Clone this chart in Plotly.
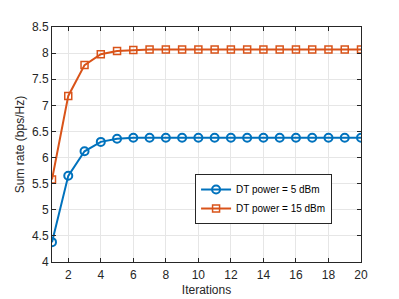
import plotly.graph_objects as go

iterations = list(range(1, 21))
rate_5dbm = [4.38, 5.65, 6.12, 6.30, 6.36, 6.38, 6.38, 6.38, 6.38, 6.38,
             6.38, 6.38, 6.38, 6.38, 6.38, 6.38, 6.38, 6.38, 6.38, 6.38]
rate_15dbm = [5.58, 7.18, 7.77, 7.98, 8.04, 8.06, 8.07, 8.07, 8.07, 8.07,
              8.07, 8.07, 8.07, 8.07, 8.07, 8.07, 8.07, 8.07, 8.07, 8.07]
x_ticks = list(range(2, 21, 2))
y_ticks = [4, 4.5, 5, 5.5, 6, 6.5, 7, 7.5, 8, 8.5]
y_ticktext = ["4", "4.5", "5", "5.5", "6", "6.5", "7", "7.5", "8", "8.5"]

FONT = "Liberation Sans, Arial"

fig = go.Figure()
fig.add_trace(go.Scatter(
    x=iterations, y=rate_5dbm, mode="lines+markers", name="DT power = 5 dBm",
    line=dict(color="#0072BD", width=2),
    marker=dict(symbol="circle-open", size=8, color="#0072BD", line=dict(width=2))))
fig.add_trace(go.Scatter(
    x=iterations, y=rate_15dbm, mode="lines+markers", name="DT power = 15 dBm",
    line=dict(color="#D95319", width=2),
    marker=dict(symbol="square-open", size=7, color="#D95319", line=dict(width=1.5))))

axis_common = dict(
    showgrid=True, gridcolor="#e6e6e6", gridwidth=1,
    showline=True, linecolor="#262626", linewidth=1, mirror="ticks",
    ticks="inside", ticklen=4, tickcolor="#262626",
    tickfont=dict(family=FONT, size=12, color="#262626"),
    zeroline=False,
)
fig.update_xaxes(range=[1, 20], tickvals=x_ticks, ticklabelstandoff=2,
                 title=dict(text="Iterations", font=dict(family=FONT, size=12, color="#262626"), standoff=4),
                 **axis_common)
fig.update_yaxes(range=[4, 8.5], tickvals=y_ticks, ticktext=y_ticktext,
                 title=dict(text="Sum rate (bps/Hz)", font=dict(family=FONT, size=12, color="#262626"), standoff=4),
                 **axis_common)
fig.update_layout(
    width=399, height=299,
    margin=dict(l=44, r=46, t=14, b=44),
    paper_bgcolor="white", plot_bgcolor="white",
    legend=dict(x=0.463, y=0.268, xanchor="left", yanchor="middle",
                bgcolor="white", bordercolor="#262626", borderwidth=1,
                font=dict(family=FONT, size=10, color="#000000"),
                tracegroupgap=0, itemwidth=30),
    showlegend=True,
)
fig.write_html("out.html")
